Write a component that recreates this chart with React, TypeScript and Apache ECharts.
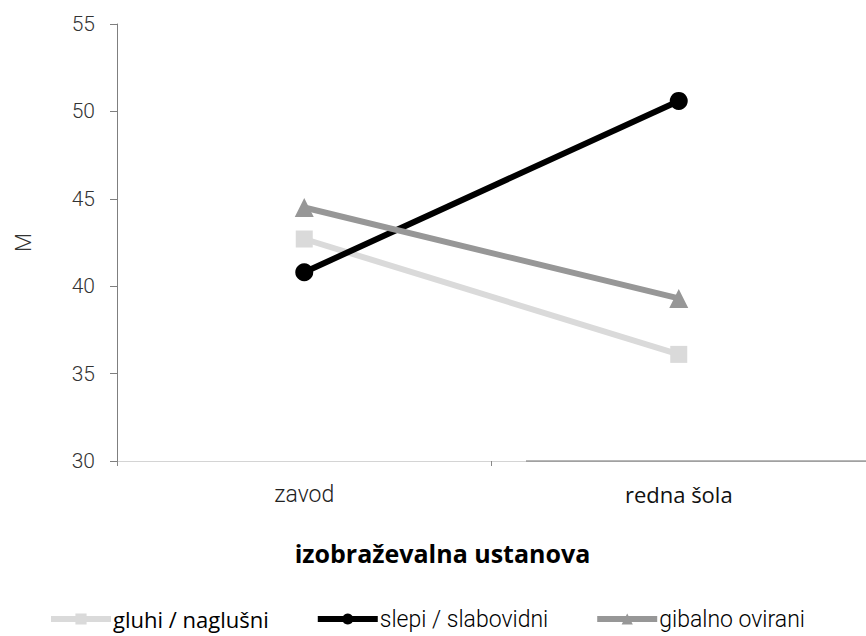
import React, { useEffect, useRef } from "react";
import * as echarts from "echarts";

const categories = ["zavod", "redna šola"];
const seriesNames = ["gluhi / naglušni", "slepi / slabovidni", "gibalno ovirani"];
const gluhi = [42.7, 36.1];
const slepi = [40.8, 50.6];
const gibalno = [44.5, 39.3];
const colors = ["#dadada", "#000000", "#979797"];
const symbols = ["rect", "circle", "triangle"];
const symbolSizes = [17, 18, 19];

export default function App() {
  const ref = useRef<HTMLDivElement>(null);
  useEffect(() => {
    const chart = echarts.init(ref.current!, null, { renderer: "svg" });
    const data = [gluhi, slepi, gibalno];
    chart.setOption({
      animation: false,
      backgroundColor: "#ffffff",
      grid: { left: 117, top: 24, width: 755, height: 437, containLabel: false },
      xAxis: {
        type: "category",
        data: categories,
        boundaryGap: true,
        axisLine: { lineStyle: { color: "#d4d4d4", width: 1 } },
        axisTick: { show: true, length: 5, lineStyle: { color: "#888" } },
        axisLabel: {
          margin: 22,
          formatter: (v: string) => (v === "redna šola" ? "{b|" + v + "}" : "{l|" + v + "}"),
          rich: {
            l: { fontSize: 23, fontFamily: "Roboto", fontWeight: 300, color: "#222" },
            b: { fontSize: 22, fontFamily: "Open Sans", fontWeight: 400, color: "#111" },
          },
        },
        name: "izobraževalna ustanova",
        nameLocation: "middle",
        nameGap: 79,
        nameTextStyle: { fontSize: 25, fontWeight: "bold", fontFamily: "Open Sans", color: "#000", padding: [0, 98, 0, 0] },
      },
      yAxis: {
        type: "value",
        min: 30,
        max: 55,
        interval: 5,
        axisLine: { show: true, lineStyle: { color: "#7f7f7f", width: 1 } },
        axisTick: { show: true, length: 7, lineStyle: { color: "#7f7f7f" } },
        splitLine: { show: false },
        axisLabel: { margin: 22, fontSize: 21, fontFamily: "Roboto", fontWeight: 300, color: "#333" },
        name: "M",
        nameLocation: "middle",
        nameGap: 83,
        nameRotate: 90,
        nameTextStyle: { fontSize: 22, fontFamily: "Roboto", fontWeight: 300, color: "#333" },
      },
      legend: {
        top: 607,
        left: 48,
        padding: 0,
        itemWidth: 60,
        itemHeight: 14,
        itemGap: 46,
        lineStyle: { width: 6 },
        textStyle: { fontSize: 23, lineHeight: 24, fontFamily: "Roboto", fontWeight: 300, color: "#000", padding: [0, 0, 0, -3] },
        data: seriesNames.map((n, i) => ({
          name: n,
          textStyle: i === 0 ? { fontFamily: "Open Sans", fontWeight: 400, fontSize: 22, lineHeight: 24 } : {},
        })),
      },
      graphic: [
        {
          type: "line",
          shape: { x1: 526, y1: 461, x2: 866, y2: 461 },
          style: { stroke: "#6f6f6f", lineWidth: 1 },
          z: 5,
        },
      ],
      series: seriesNames.map((n, i) => ({
        name: n,
        type: "line",
        data: data[i],
        color: colors[i],
        symbol: symbols[i],
        symbolSize: symbolSizes[i],
        showSymbol: true,
        lineStyle: { width: 6, color: colors[i] },
        itemStyle: { color: colors[i] },
        z: 2 + i,
      })),
    });
    return () => chart.dispose();
  }, []);
  return <div ref={ref} style={{ width: 866, height: 636, position: "absolute", left: 0, top: 0 }} />;
}
